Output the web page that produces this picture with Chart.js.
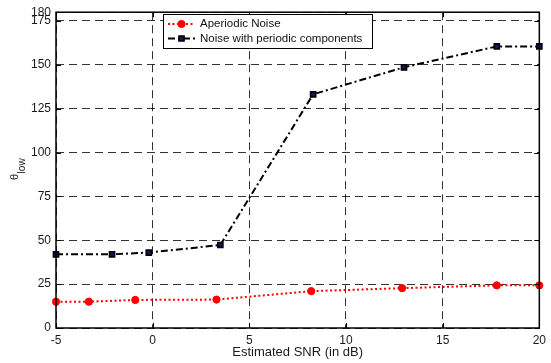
<!DOCTYPE html>
<html>
<head>
<meta charset="utf-8">
<script src="https://cdn.jsdelivr.net/npm/chart.js@4.4.1/dist/chart.umd.min.js"></script>
<style>
  html, body { margin: 0; padding: 0; background: #fff; }
  #wrap { width: 551px; height: 363px; }
</style>
</head>
<body>
<div id="wrap"><canvas id="thetaChart" width="551" height="363"></canvas></div>
<script>
const seriesNames = ['Aperiodic Noise', 'Noise with periodic components'];

// estimated SNR (dB) and theta_low
const snrAperiodic = [-5, -3.3, -0.9, 3.3, 8.2, 12.9, 17.8, 20];
const thetaAperiodic = [15, 15, 16, 16.2, 21, 22.7, 24.3, 24.3];

const snrPeriodic = [-5, -2.1, -0.2, 3.5, 8.3, 13.0, 17.8, 20];
const thetaPeriodic = [42, 42, 43, 47.3, 133.2, 148.6, 160.5, 160.5];

const xTicks = [-5, 0, 5, 10, 15, 20];
const yTicks = [0, 25, 50, 75, 100, 125, 150, 175, 180];

const FONT = '"Liberation Sans", Arial, Helvetica, sans-serif';

function toPoints(xs, ys) {
    return xs.map((x, i) => ({ x: x, y: ys[i] }));
}

// box, inward ticks, y label with subscript and the legend
const matlabFrame = {
    id: 'matlabFrame',
    afterDraw(chart) {
        const { ctx, chartArea: a, scales } = chart;
        ctx.save();
        ctx.strokeStyle = '#000';
        ctx.lineWidth = 1;
        ctx.setLineDash([]);
        ctx.beginPath();
        xTicks.forEach(v => {
            const px = Math.round(scales.x.getPixelForValue(v)) + 0.5;
            ctx.moveTo(px, a.bottom); ctx.lineTo(px, a.bottom - 5);
            ctx.moveTo(px, a.top); ctx.lineTo(px, a.top + 5);
        });
        yTicks.forEach(v => {
            const py = Math.round(scales.y.getPixelForValue(v)) + 0.5;
            ctx.moveTo(a.left, py); ctx.lineTo(a.left + 5, py);
            ctx.moveTo(a.right, py); ctx.lineTo(a.right - 5, py);
        });
        ctx.stroke();
        ctx.lineWidth = 1.5;
        ctx.strokeRect(a.left, a.top, a.right - a.left, a.bottom - a.top);

        // y label: theta with subscript "low"
        ctx.fillStyle = '#1a1a1a';
        ctx.translate(18, 180);
        ctx.rotate(-Math.PI / 2);
        ctx.textBaseline = 'alphabetic';
        ctx.textAlign = 'left';
        ctx.font = '11px ' + FONT;
        ctx.fillText('θ', 0, 0);
        const wTheta = ctx.measureText('θ').width;
        ctx.font = '10px ' + FONT;
        ctx.fillText('low', wTheta + 0.5, 6.5);
        ctx.restore();

        // legend
        ctx.save();
        const lx = 163, ly = 14, lw = 209, lh = 34;
        ctx.fillStyle = '#fff';
        ctx.fillRect(lx, ly, lw, lh);
        ctx.strokeStyle = '#000';
        ctx.lineWidth = 1;
        ctx.strokeRect(lx + 0.5, ly + 0.5, lw, lh);
        const rows = [24, 38.5];
        chart.data.datasets.forEach((ds, i) => {
            const y = rows[i];
            ctx.strokeStyle = ds.borderColor;
            ctx.lineWidth = ds.borderWidth;
            ctx.setLineDash(ds.borderDash);
            ctx.beginPath();
            ctx.moveTo(168, y); ctx.lineTo(195, y);
            ctx.stroke();
            ctx.setLineDash([]);
            ctx.fillStyle = ds.pointBackgroundColor;
            ctx.strokeStyle = ds.pointBorderColor;
            ctx.lineWidth = ds.pointBorderWidth;
            Chart.helpers.drawPoint(ctx, {
                pointStyle: ds.pointStyle, radius: ds.pointRadius,
                borderWidth: ds.pointBorderWidth, rotation: 0
            }, 181.5, y);
            ctx.fillStyle = '#111';
            ctx.font = '11.5px ' + FONT;
            ctx.textBaseline = 'middle';
            ctx.textAlign = 'left';
            ctx.fillText(ds.label, 200, y);
        });
        ctx.restore();
    }
};

const ctx = document.getElementById('thetaChart').getContext('2d');
const thetaChart = new Chart(ctx, {
    type: 'line',
    data: {
        datasets: [{
            label: seriesNames[0],
            data: toPoints(snrAperiodic, thetaAperiodic),
            borderColor: '#ff0000',
            borderWidth: 2,
            borderDash: [2, 2.5],
            pointStyle: 'circle',
            pointRadius: 3.6,
            pointBackgroundColor: '#ff0000',
            pointBorderColor: '#ff0000',
            pointBorderWidth: 1,
            tension: 0,
            clip: false
        }, {
            label: seriesNames[1],
            data: toPoints(snrPeriodic, thetaPeriodic),
            borderColor: '#000000',
            borderWidth: 2,
            borderDash: [7, 3, 2, 3],
            pointStyle: 'rect',
            pointRadius: 3.6,
            pointBackgroundColor: '#0a1a5a',
            pointBorderColor: '#000000',
            pointBorderWidth: 1.6,
            tension: 0,
            clip: false
        }]
    },
    options: {
        responsive: false,
        animation: false,
        devicePixelRatio: 1,
        layout: { padding: { top: 10, right: 11, left: 0, bottom: 0 } },
        plugins: {
            legend: { display: false },
            tooltip: { enabled: false }
        },
        scales: {
            x: {
                type: 'linear',
                min: -5,
                max: 20,
                afterBuildTicks: scale => { scale.ticks = xTicks.map(v => ({ value: v })); },
                afterFit: scale => { scale.height = 35; },
                grid: { color: 'rgba(0,0,0,0.8)', lineWidth: 1, drawTicks: false },
                border: { display: false, dash: [8, 5] },
                ticks: { color: '#1a1a1a', font: { family: FONT, size: 12 }, padding: 5, maxRotation: 0 },
                title: {
                    display: true,
                    text: 'Estimated SNR (in dB)',
                    color: '#1a1a1a',
                    font: { family: FONT, size: 13 },
                    padding: { top: 0, bottom: 3 }
                }
            },
            y: {
                min: 0,
                max: 180,
                afterBuildTicks: scale => { scale.ticks = yTicks.map(v => ({ value: v })); },
                afterFit: scale => { scale.width = 56; },
                grid: { color: 'rgba(0,0,0,0.8)', lineWidth: 1, drawTicks: false },
                border: { display: false, dash: [8, 5] },
                ticks: { color: '#1a1a1a', font: { family: FONT, size: 12 }, padding: 5 }
            }
        }
    },
    plugins: [matlabFrame]
});
</script>
</body>
</html>
